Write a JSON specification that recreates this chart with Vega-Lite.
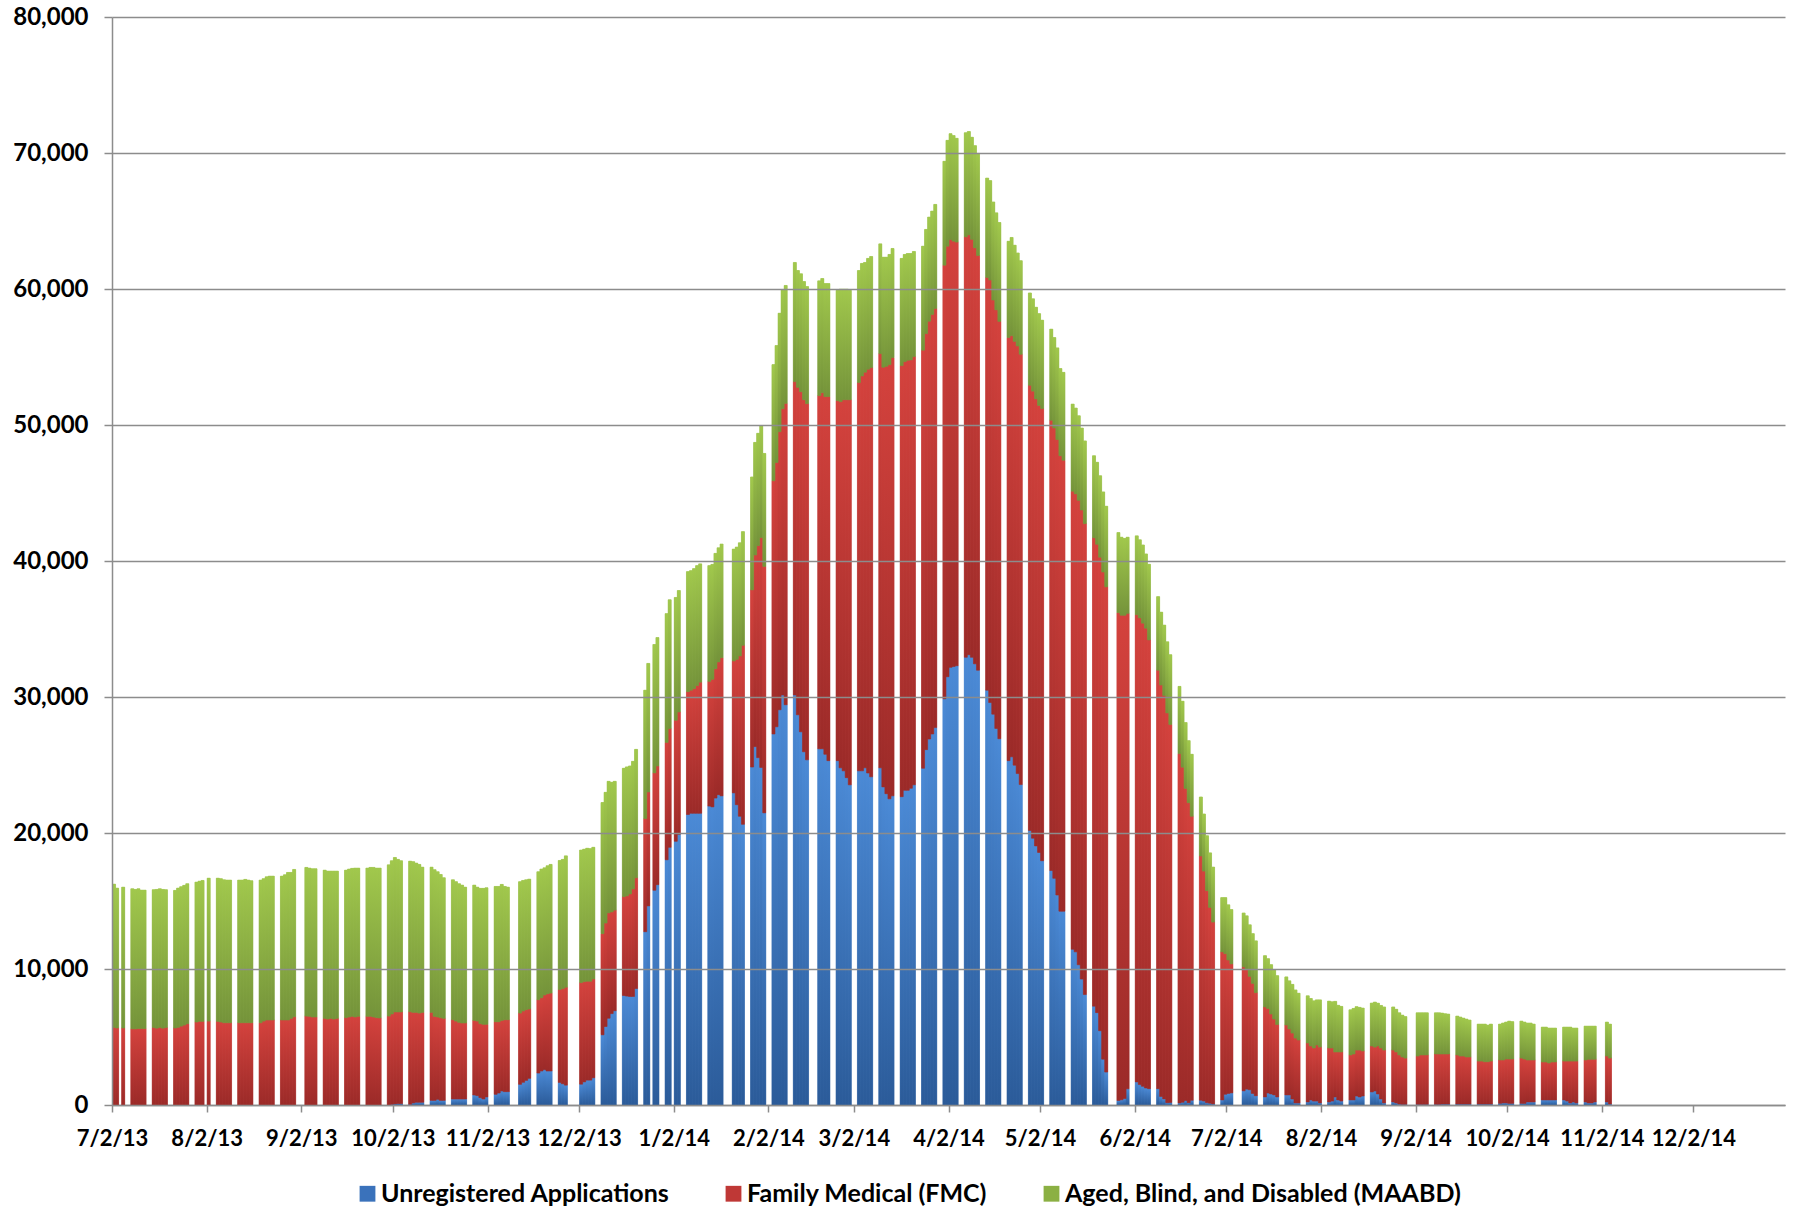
{
"$schema": "https://vega.github.io/schema/vega-lite/v6.json",
"width": 1673, "height": 1088,
"autosize": {"type": "none"},
"padding": {"left": 112, "top": 17, "right": 9, "bottom": 103},
"background": "white",
"config": {"view": {"stroke": null}, "font": "Lato"},
"data": {"values": [
{"d":"2013-07-02","u":0,"f":5710,"a":10530},{"d":"2013-07-03","u":0,"f":5660,"a":10290},{"d":"2013-07-05","u":0,"f":5660,"a":10360},
{"d":"2013-07-08","u":0,"f":5600,"a":10300},{"d":"2013-07-09","u":0,"f":5600,"a":10250},{"d":"2013-07-10","u":0,"f":5620,"a":10280},{"d":"2013-07-11","u":0,"f":5620,"a":10180},{"d":"2013-07-12","u":0,"f":5620,"a":10180},
{"d":"2013-07-15","u":0,"f":5700,"a":10130},{"d":"2013-07-16","u":0,"f":5650,"a":10200},{"d":"2013-07-17","u":0,"f":5700,"a":10200},{"d":"2013-07-18","u":0,"f":5650,"a":10200},{"d":"2013-07-19","u":0,"f":5700,"a":10130},
{"d":"2013-07-22","u":0,"f":5660,"a":10120},{"d":"2013-07-23","u":0,"f":5710,"a":10240},{"d":"2013-07-24","u":0,"f":5800,"a":10250},{"d":"2013-07-25","u":0,"f":5880,"a":10270},{"d":"2013-07-26","u":0,"f":5980,"a":10290},
{"d":"2013-07-29","u":0,"f":6100,"a":10290},{"d":"2013-07-30","u":0,"f":6150,"a":10310},{"d":"2013-07-31","u":0,"f":6150,"a":10360},{"d":"2013-08-02","u":0,"f":6170,"a":10510},
{"d":"2013-08-05","u":0,"f":6150,"a":10530},{"d":"2013-08-06","u":0,"f":6100,"a":10540},{"d":"2013-08-07","u":0,"f":6050,"a":10510},{"d":"2013-08-08","u":0,"f":6050,"a":10490},{"d":"2013-08-09","u":0,"f":6050,"a":10490},
{"d":"2013-08-12","u":0,"f":6050,"a":10490},{"d":"2013-08-13","u":0,"f":6050,"a":10490},{"d":"2013-08-14","u":0,"f":6050,"a":10540},{"d":"2013-08-15","u":0,"f":6050,"a":10490},{"d":"2013-08-16","u":0,"f":6050,"a":10440},
{"d":"2013-08-19","u":0,"f":6050,"a":10490},{"d":"2013-08-20","u":0,"f":6170,"a":10470},{"d":"2013-08-21","u":0,"f":6250,"a":10530},{"d":"2013-08-22","u":0,"f":6250,"a":10580},{"d":"2013-08-23","u":0,"f":6250,"a":10580},
{"d":"2013-08-26","u":0,"f":6250,"a":10580},{"d":"2013-08-27","u":0,"f":6250,"a":10680},{"d":"2013-08-28","u":0,"f":6250,"a":10850},{"d":"2013-08-29","u":0,"f":6370,"a":10730},{"d":"2013-08-30","u":0,"f":6490,"a":10830},
{"d":"2013-09-03","u":0,"f":6540,"a":10930},{"d":"2013-09-04","u":0,"f":6520,"a":10900},{"d":"2013-09-05","u":0,"f":6470,"a":10900},{"d":"2013-09-06","u":0,"f":6470,"a":10900},
{"d":"2013-09-09","u":0,"f":6370,"a":10900},{"d":"2013-09-10","u":0,"f":6320,"a":10880},{"d":"2013-09-11","u":0,"f":6370,"a":10830},{"d":"2013-09-12","u":0,"f":6320,"a":10880},{"d":"2013-09-13","u":0,"f":6370,"a":10830},
{"d":"2013-09-16","u":0,"f":6420,"a":10850},{"d":"2013-09-17","u":0,"f":6470,"a":10880},{"d":"2013-09-18","u":0,"f":6520,"a":10880},{"d":"2013-09-19","u":0,"f":6470,"a":10950},{"d":"2013-09-20","u":0,"f":6520,"a":10900},
{"d":"2013-09-23","u":0,"f":6520,"a":10900},{"d":"2013-09-24","u":0,"f":6520,"a":10950},{"d":"2013-09-25","u":0,"f":6470,"a":11000},{"d":"2013-09-26","u":0,"f":6420,"a":11000},{"d":"2013-09-27","u":0,"f":6400,"a":11020},
{"d":"2013-09-30","u":0,"f":6540,"a":11120},{"d":"2013-10-01","u":50,"f":6640,"a":11270},{"d":"2013-10-02","u":80,"f":6760,"a":11360},{"d":"2013-10-03","u":100,"f":6740,"a":11220},{"d":"2013-10-04","u":100,"f":6740,"a":11120},
{"d":"2013-10-07","u":50,"f":6810,"a":11070},{"d":"2013-10-08","u":150,"f":6660,"a":11080},{"d":"2013-10-09","u":200,"f":6610,"a":10980},{"d":"2013-10-10","u":200,"f":6560,"a":10930},{"d":"2013-10-11","u":200,"f":6610,"a":10680},
{"d":"2013-10-14","u":340,"f":6470,"a":10680},{"d":"2013-10-15","u":340,"f":6180,"a":10780},{"d":"2013-10-16","u":420,"f":6050,"a":10680},{"d":"2013-10-17","u":340,"f":6080,"a":10530},{"d":"2013-10-18","u":340,"f":6030,"a":10340},
{"d":"2013-10-21","u":440,"f":5830,"a":10290},{"d":"2013-10-22","u":440,"f":5730,"a":10250},{"d":"2013-10-23","u":440,"f":5640,"a":10190},{"d":"2013-10-24","u":440,"f":5590,"a":10140},{"d":"2013-10-25","u":440,"f":5590,"a":9990},
{"d":"2013-10-28","u":735,"f":5485,"a":9950},{"d":"2013-10-29","u":690,"f":5480,"a":9850},{"d":"2013-10-30","u":540,"f":5440,"a":9950},{"d":"2013-10-31","u":440,"f":5490,"a":10000},{"d":"2013-11-01","u":590,"f":5340,"a":10040},
{"d":"2013-11-04","u":785,"f":5335,"a":9950},{"d":"2013-11-05","u":880,"f":5240,"a":9950},{"d":"2013-11-06","u":1030,"f":5190,"a":10000},{"d":"2013-11-07","u":980,"f":5290,"a":9800},{"d":"2013-11-08","u":980,"f":5290,"a":9750},
{"d":"2013-11-12","u":1520,"f":5240,"a":9660},{"d":"2013-11-13","u":1670,"f":5240,"a":9600},{"d":"2013-11-14","u":1810,"f":5200,"a":9550},{"d":"2013-11-15","u":1960,"f":5100,"a":9550},
{"d":"2013-11-18","u":2350,"f":5390,"a":9410},{"d":"2013-11-19","u":2500,"f":5390,"a":9460},{"d":"2013-11-20","u":2600,"f":5490,"a":9350},{"d":"2013-11-21","u":2500,"f":5680,"a":9410},{"d":"2013-11-22","u":2500,"f":5730,"a":9460},
{"d":"2013-11-25","u":1660,"f":6830,"a":9490},{"d":"2013-11-26","u":1560,"f":7000,"a":9500},{"d":"2013-11-27","u":1460,"f":7200,"a":9660},
{"d":"2013-12-02","u":1530,"f":7470,"a":9750},{"d":"2013-12-03","u":1700,"f":7370,"a":9740},{"d":"2013-12-04","u":1830,"f":7270,"a":9780},{"d":"2013-12-05","u":1830,"f":7270,"a":9750},{"d":"2013-12-06","u":2000,"f":7270,"a":9680},
{"d":"2013-12-09","u":5160,"f":7440,"a":9640},{"d":"2013-12-10","u":5770,"f":7610,"a":9610},{"d":"2013-12-11","u":6380,"f":7750,"a":9670},{"d":"2013-12-12","u":6720,"f":7480,"a":9530},{"d":"2013-12-13","u":6930,"f":7400,"a":9470},
{"d":"2013-12-16","u":8050,"f":7270,"a":9440},{"d":"2013-12-17","u":8010,"f":7370,"a":9480},{"d":"2013-12-18","u":7980,"f":7540,"a":9410},{"d":"2013-12-19","u":7980,"f":7910,"a":9380},{"d":"2013-12-20","u":8560,"f":8150,"a":9440},
{"d":"2013-12-23","u":12740,"f":8320,"a":9440},{"d":"2013-12-24","u":14640,"f":8380,"a":9450},{"d":"2013-12-26","u":15790,"f":8630,"a":9440},{"d":"2013-12-27","u":16200,"f":8730,"a":9440},
{"d":"2013-12-30","u":18030,"f":8630,"a":9470},{"d":"2013-12-31","u":18950,"f":8730,"a":9470},{"d":"2014-01-02","u":19390,"f":8900,"a":9030},{"d":"2014-01-03","u":19900,"f":9000,"a":8930},
{"d":"2014-01-06","u":21360,"f":9030,"a":8830},{"d":"2014-01-07","u":21450,"f":9050,"a":8790},{"d":"2014-01-08","u":21450,"f":9170,"a":8820},{"d":"2014-01-09","u":21450,"f":9390,"a":8820},{"d":"2014-01-10","u":21450,"f":9640,"a":8700},
{"d":"2014-01-13","u":21980,"f":9170,"a":8510},{"d":"2014-01-14","u":21920,"f":9380,"a":8450},{"d":"2014-01-15","u":22570,"f":9510,"a":8480},{"d":"2014-01-16","u":22820,"f":9760,"a":8390},{"d":"2014-01-17","u":22730,"f":10160,"a":8360},
{"d":"2014-01-21","u":22950,"f":9700,"a":8230},{"d":"2014-01-22","u":22080,"f":10690,"a":8260},{"d":"2014-01-23","u":21230,"f":11790,"a":8320},{"d":"2014-01-24","u":20640,"f":13160,"a":8360},
{"d":"2014-01-27","u":24850,"f":13030,"a":8300},{"d":"2014-01-28","u":26350,"f":14090,"a":8280},{"d":"2014-01-29","u":25540,"f":15590,"a":8260},{"d":"2014-01-30","u":24820,"f":16900,"a":8230},{"d":"2014-01-31","u":21480,"f":18120,"a":8310},
{"d":"2014-02-03","u":27280,"f":18620,"a":8540},{"d":"2014-02-04","u":27810,"f":19430,"a":8600},{"d":"2014-02-05","u":29060,"f":20450,"a":8710},{"d":"2014-02-06","u":30150,"f":21050,"a":8740},{"d":"2014-02-07","u":29430,"f":22160,"a":8670},
{"d":"2014-02-10","u":30150,"f":23040,"a":8760},{"d":"2014-02-11","u":28690,"f":24080,"a":8590},{"d":"2014-02-12","u":27440,"f":25010,"a":8670},{"d":"2014-02-13","u":25970,"f":25890,"a":8690},{"d":"2014-02-14","u":25380,"f":26190,"a":8610},
{"d":"2014-02-18","u":26190,"f":25970,"a":8440},{"d":"2014-02-19","u":26190,"f":26190,"a":8390},{"d":"2014-02-20","u":25790,"f":26300,"a":8310},{"d":"2014-02-21","u":25320,"f":26770,"a":8310},
{"d":"2014-02-24","u":25320,"f":26470,"a":8120},{"d":"2014-02-25","u":24790,"f":26930,"a":8270},{"d":"2014-02-26","u":24570,"f":27290,"a":8130},{"d":"2014-02-27","u":24070,"f":27790,"a":8130},{"d":"2014-02-28","u":23540,"f":28320,"a":8050},
{"d":"2014-03-03","u":24570,"f":28550,"a":8240},{"d":"2014-03-04","u":24570,"f":29040,"a":8270},{"d":"2014-03-05","u":24790,"f":29090,"a":8070},{"d":"2014-03-06","u":24410,"f":29690,"a":8150},{"d":"2014-03-07","u":24130,"f":30090,"a":8170},
{"d":"2014-03-10","u":24790,"f":30460,"a":8070},{"d":"2014-03-11","u":23390,"f":30860,"a":8090},{"d":"2014-03-12","u":22890,"f":31430,"a":8020},{"d":"2014-03-13","u":22510,"f":31930,"a":8100},{"d":"2014-03-14","u":22730,"f":32230,"a":8020},
{"d":"2014-03-17","u":22670,"f":31700,"a":7880},{"d":"2014-03-18","u":23140,"f":31520,"a":7880},{"d":"2014-03-19","u":23140,"f":31620,"a":7850},{"d":"2014-03-20","u":23290,"f":31500,"a":7820},{"d":"2014-03-21","u":23540,"f":31490,"a":7730},
{"d":"2014-03-24","u":24760,"f":30740,"a":7650},{"d":"2014-03-25","u":26130,"f":30590,"a":7660},{"d":"2014-03-26","u":26910,"f":30720,"a":7660},{"d":"2014-03-27","u":27280,"f":30850,"a":7600},{"d":"2014-03-28","u":27750,"f":30820,"a":7650},
{"d":"2014-03-31","u":29870,"f":31880,"a":7640},{"d":"2014-04-01","u":31490,"f":31660,"a":7780},{"d":"2014-04-02","u":32180,"f":31460,"a":7780},{"d":"2014-04-03","u":32240,"f":31280,"a":7760},{"d":"2014-04-04","u":32300,"f":31150,"a":7630},
{"d":"2014-04-07","u":32920,"f":30920,"a":7650},{"d":"2014-04-08","u":33110,"f":30870,"a":7600},{"d":"2014-04-09","u":32920,"f":30730,"a":7510},{"d":"2014-04-10","u":32440,"f":30590,"a":7510},{"d":"2014-04-11","u":31970,"f":30490,"a":7510},
{"d":"2014-04-14","u":30500,"f":30350,"a":7310},{"d":"2014-04-15","u":29590,"f":31070,"a":7310},{"d":"2014-04-16","u":28740,"f":30450,"a":7210},{"d":"2014-04-17","u":27690,"f":30780,"a":7130},{"d":"2014-04-18","u":26930,"f":30690,"a":7270},
{"d":"2014-04-21","u":25320,"f":31110,"a":7080},{"d":"2014-04-22","u":25600,"f":30970,"a":7220},{"d":"2014-04-23","u":24990,"f":31160,"a":7070},{"d":"2014-04-24","u":24370,"f":31440,"a":6840},{"d":"2014-04-25","u":23560,"f":31640,"a":6880},
{"d":"2014-04-28","u":20190,"f":32730,"a":6790},{"d":"2014-04-29","u":19620,"f":32870,"a":6790},{"d":"2014-04-30","u":19050,"f":32870,"a":6740},{"d":"2014-05-01","u":18570,"f":32870,"a":6750},{"d":"2014-05-02","u":17960,"f":33250,"a":6500},
{"d":"2014-05-05","u":17240,"f":33110,"a":6700},{"d":"2014-05-06","u":16670,"f":33110,"a":6650},{"d":"2014-05-07","u":15440,"f":33490,"a":6740},{"d":"2014-05-08","u":14250,"f":33490,"a":6410},{"d":"2014-05-09","u":14250,"f":33160,"a":6460},
{"d":"2014-05-12","u":11450,"f":33680,"a":6410},{"d":"2014-05-13","u":11260,"f":33680,"a":6310},{"d":"2014-05-14","u":10310,"f":34150,"a":6220},{"d":"2014-05-15","u":9260,"f":34490,"a":6030},{"d":"2014-05-16","u":8120,"f":34630,"a":6080},
{"d":"2014-05-19","u":7270,"f":34440,"a":6030},{"d":"2014-05-20","u":6790,"f":34440,"a":6030},{"d":"2014-05-21","u":5460,"f":34820,"a":5990},{"d":"2014-05-22","u":3370,"f":35820,"a":5890},{"d":"2014-05-23","u":2420,"f":35680,"a":5930},
{"d":"2014-05-27","u":330,"f":35870,"a":5890},{"d":"2014-05-28","u":380,"f":35630,"a":5740},{"d":"2014-05-29","u":475,"f":35535,"a":5650},{"d":"2014-05-30","u":1190,"f":34960,"a":5600},
{"d":"2014-06-02","u":1700,"f":34350,"a":5800},{"d":"2014-06-03","u":1500,"f":34320,"a":5740},{"d":"2014-06-04","u":1370,"f":34060,"a":5750},{"d":"2014-06-05","u":1250,"f":33810,"a":5460},{"d":"2014-06-06","u":1200,"f":33000,"a":5560},
{"d":"2014-06-09","u":1200,"f":30770,"a":5410},{"d":"2014-06-10","u":620,"f":30260,"a":5360},{"d":"2014-06-11","u":450,"f":29660,"a":5180},{"d":"2014-06-12","u":170,"f":28660,"a":5230},{"d":"2014-06-13","u":190,"f":27790,"a":5130},
{"d":"2014-06-16","u":150,"f":25690,"a":4940},{"d":"2014-06-17","u":200,"f":24640,"a":4850},{"d":"2014-06-18","u":330,"f":22950,"a":4840},{"d":"2014-06-19","u":170,"f":22060,"a":4560},{"d":"2014-06-20","u":350,"f":20880,"a":4560},
{"d":"2014-06-23","u":350,"f":17960,"a":4340},{"d":"2014-06-24","u":290,"f":16910,"a":4200},{"d":"2014-06-25","u":170,"f":15590,"a":4040},{"d":"2014-06-26","u":130,"f":14400,"a":4010},{"d":"2014-06-27","u":80,"f":13370,"a":4050},
{"d":"2014-06-30","u":370,"f":10890,"a":3990},{"d":"2014-07-01","u":790,"f":10340,"a":4120},{"d":"2014-07-02","u":850,"f":9810,"a":4060},{"d":"2014-07-03","u":890,"f":9490,"a":3990},
{"d":"2014-07-07","u":1040,"f":9120,"a":3960},{"d":"2014-07-08","u":1170,"f":8840,"a":3900},{"d":"2014-07-09","u":1120,"f":8340,"a":3790},{"d":"2014-07-10","u":850,"f":8090,"a":3660},{"d":"2014-07-11","u":680,"f":7580,"a":3810},
{"d":"2014-07-14","u":590,"f":6620,"a":3770},{"d":"2014-07-15","u":880,"f":6220,"a":3660},{"d":"2014-07-16","u":810,"f":5880,"a":3630},{"d":"2014-07-17","u":740,"f":5580,"a":3630},{"d":"2014-07-18","u":590,"f":5330,"a":3590},
{"d":"2014-07-21","u":740,"f":5140,"a":3540},{"d":"2014-07-22","u":740,"f":4850,"a":3540},{"d":"2014-07-23","u":440,"f":4850,"a":3580},{"d":"2014-07-24","u":150,"f":4770,"a":3540},{"d":"2014-07-25","u":150,"f":4630,"a":3440},
{"d":"2014-07-28","u":220,"f":4340,"a":3470},{"d":"2014-07-29","u":370,"f":3970,"a":3490},{"d":"2014-07-30","u":290,"f":3900,"a":3470},{"d":"2014-07-31","u":290,"f":4120,"a":3320},{"d":"2014-08-01","u":150,"f":4110,"a":3470},
{"d":"2014-08-04","u":220,"f":3970,"a":3450},{"d":"2014-08-05","u":290,"f":3900,"a":3400},{"d":"2014-08-06","u":590,"f":3310,"a":3720},{"d":"2014-08-07","u":370,"f":3530,"a":3430},{"d":"2014-08-08","u":290,"f":3610,"a":3350},
{"d":"2014-08-11","u":370,"f":3310,"a":3320},{"d":"2014-08-12","u":370,"f":3380,"a":3350},{"d":"2014-08-13","u":660,"f":3380,"a":3190},{"d":"2014-08-14","u":590,"f":3450,"a":3140},{"d":"2014-08-15","u":660,"f":3310,"a":3160},
{"d":"2014-08-18","u":960,"f":3380,"a":3160},{"d":"2014-08-19","u":1030,"f":3230,"a":3310},{"d":"2014-08-20","u":810,"f":3530,"a":3150},{"d":"2014-08-21","u":440,"f":3750,"a":3130},{"d":"2014-08-22","u":150,"f":3890,"a":3170},
{"d":"2014-08-25","u":220,"f":3820,"a":3170},{"d":"2014-08-26","u":150,"f":3750,"a":3140},{"d":"2014-08-27","u":70,"f":3610,"a":3100},{"d":"2014-08-28","u":50,"f":3480,"a":3080},{"d":"2014-08-29","u":50,"f":3400,"a":3050},
{"d":"2014-09-02","u":50,"f":3550,"a":3180},{"d":"2014-09-03","u":50,"f":3630,"a":3100},{"d":"2014-09-04","u":50,"f":3630,"a":3100},{"d":"2014-09-05","u":50,"f":3630,"a":3100},
{"d":"2014-09-08","u":50,"f":3700,"a":3030},{"d":"2014-09-09","u":50,"f":3700,"a":3030},{"d":"2014-09-10","u":70,"f":3680,"a":3010},{"d":"2014-09-11","u":70,"f":3680,"a":2960},{"d":"2014-09-12","u":70,"f":3680,"a":2940},
{"d":"2014-09-15","u":70,"f":3610,"a":2860},{"d":"2014-09-16","u":70,"f":3530,"a":2870},{"d":"2014-09-17","u":70,"f":3530,"a":2790},{"d":"2014-09-18","u":70,"f":3460,"a":2790},{"d":"2014-09-19","u":70,"f":3460,"a":2720},
{"d":"2014-09-22","u":70,"f":3160,"a":2720},{"d":"2014-09-23","u":70,"f":3160,"a":2720},{"d":"2014-09-24","u":70,"f":3110,"a":2770},{"d":"2014-09-25","u":70,"f":3110,"a":2700},{"d":"2014-09-26","u":70,"f":3160,"a":2720},
{"d":"2014-09-29","u":120,"f":3190,"a":2640},{"d":"2014-09-30","u":150,"f":3160,"a":2720},{"d":"2014-10-01","u":150,"f":3230,"a":2720},{"d":"2014-10-02","u":120,"f":3260,"a":2790},{"d":"2014-10-03","u":120,"f":3260,"a":2750},
{"d":"2014-10-06","u":120,"f":3330,"a":2720},{"d":"2014-10-07","u":120,"f":3260,"a":2720},{"d":"2014-10-08","u":220,"f":3090,"a":2720},{"d":"2014-10-09","u":220,"f":3090,"a":2720},{"d":"2014-10-10","u":220,"f":3090,"a":2640},
{"d":"2014-10-13","u":370,"f":2790,"a":2570},{"d":"2014-10-14","u":370,"f":2790,"a":2570},{"d":"2014-10-15","u":370,"f":2720,"a":2570},{"d":"2014-10-16","u":370,"f":2790,"a":2500},{"d":"2014-10-17","u":370,"f":2790,"a":2500},
{"d":"2014-10-20","u":370,"f":2860,"a":2500},{"d":"2014-10-21","u":290,"f":2940,"a":2500},{"d":"2014-10-22","u":150,"f":3080,"a":2500},{"d":"2014-10-23","u":220,"f":3010,"a":2430},{"d":"2014-10-24","u":150,"f":3080,"a":2430},
{"d":"2014-10-27","u":220,"f":3090,"a":2490},{"d":"2014-10-28","u":150,"f":3210,"a":2440},{"d":"2014-10-29","u":150,"f":3210,"a":2440},{"d":"2014-10-30","u":220,"f":3140,"a":2440},
{"d":"2014-11-03","u":220,"f":3380,"a":2500},{"d":"2014-11-04","u":70,"f":3380,"a":2500}
]},
"transform": [
  {"fold": ["u", "f", "a"], "as": ["k", "v"]},
  {"stack": "v", "groupby": ["d"], "sort": [{"field": "k", "order": "descending"}], "as": ["v0", "v1"]}
],
"encoding": {
  "x": {"field": "d", "type": "temporal", "timeUnit": "utcyearmonthdate",
    "scale": {"type": "utc", "domain": [{"year": 2013, "month": 7, "date": 2, "utc": true}, {"year": 2015, "month": 1, "date": 1, "utc": true}]},
    "axis": {"title": null, "grid": false,
      "values": [
        {"year": 2013, "month": 7, "date": 2, "utc": true}, {"year": 2013, "month": 8, "date": 2, "utc": true},
        {"year": 2013, "month": 9, "date": 2, "utc": true}, {"year": 2013, "month": 10, "date": 2, "utc": true},
        {"year": 2013, "month": 11, "date": 2, "utc": true}, {"year": 2013, "month": 12, "date": 2, "utc": true},
        {"year": 2014, "month": 1, "date": 2, "utc": true}, {"year": 2014, "month": 2, "date": 2, "utc": true},
        {"year": 2014, "month": 3, "date": 2, "utc": true}, {"year": 2014, "month": 4, "date": 2, "utc": true},
        {"year": 2014, "month": 5, "date": 2, "utc": true}, {"year": 2014, "month": 6, "date": 2, "utc": true},
        {"year": 2014, "month": 7, "date": 2, "utc": true}, {"year": 2014, "month": 8, "date": 2, "utc": true},
        {"year": 2014, "month": 9, "date": 2, "utc": true}, {"year": 2014, "month": 10, "date": 2, "utc": true},
        {"year": 2014, "month": 11, "date": 2, "utc": true}, {"year": 2014, "month": 12, "date": 2, "utc": true}
      ],
      "format": "%-m/%-d/%y",
      "labelFont": "Lato", "labelFontWeight": "bold", "labelFontSize": 22, "labelColor": "#000000",
      "labelPadding": 16, "labelFlush": false, "labelOverlap": false,
      "tickColor": "#8c8c8c", "tickSize": 7, "tickWidth": 1.5,
      "domainColor": "#8c8c8c", "domainWidth": 1.5}},
  "y": {"field": "v0", "type": "quantitative",
    "scale": {"domain": [0, 80000], "nice": false},
    "axis": {"title": null, "values": [0, 10000, 20000, 30000, 40000, 50000, 60000, 70000, 80000], "format": ",d",
      "labelFont": "Lato", "labelFontWeight": "bold", "labelFontSize": 24, "labelColor": "#000000",
      "labelPadding": 16, "tickSize": 8, "tickColor": "#8c8c8c", "tickWidth": 1.5,
      "domainColor": "#8c8c8c", "domainWidth": 1.5,
      "grid": true, "gridColor": "#8c8c8c", "gridWidth": 1.5, "zindex": 1}},
  "y2": {"field": "v1"}
},
"layer": [
  {"mark": {"type": "bar", "binSpacing": 0},
   "encoding": {"color": {"field": "k", "type": "nominal",
     "scale": {"domain": ["u", "f", "a"], "range": ["#3a72bb", "#bf3836", "#8bb043"]},
     "legend": {"title": null, "orient": "none", "legendX": 243, "legendY": 1164, "direction": "horizontal",
       "labelExpr": "datum.label == 'u' ? 'Unregistered Applications' : datum.label == 'f' ? 'Family Medical (FMC)' : 'Aged, Blind, and Disabled (MAABD)'",
       "labelFont": "Lato", "labelFontWeight": "bold", "labelFontSize": 25, "labelColor": "#000000", "labelLimit": 0,
       "symbolType": "square", "symbolSize": 250, "symbolStrokeWidth": 0, "symbolOpacity": 1,
       "columnPadding": 51, "labelOffset": 1}}}},
  {"transform": [{"filter": "datum.k === 'u'"}],
   "mark": {"type": "bar", "binSpacing": 0,
     "fill": {"gradient": "linear", "x1": 0, "y1": 0, "x2": 0, "y2": 1, "stops": [{"offset": 0, "color": "#4b8ad6"}, {"offset": 1, "color": "#2b5b99"}]},
     "stroke": {"gradient": "linear", "x1": 0, "y1": 0, "x2": 0, "y2": 1, "stops": [{"offset": 0, "color": "#4b8ad6"}, {"offset": 1, "color": "#2b5b99"}]},
     "strokeWidth": 0.6}},
  {"transform": [{"filter": "datum.k === 'f'"}],
   "mark": {"type": "bar", "binSpacing": 0,
     "fill": {"gradient": "linear", "x1": 0, "y1": 0, "x2": 0, "y2": 1, "stops": [{"offset": 0, "color": "#d4423d"}, {"offset": 1, "color": "#9b2a28"}]},
     "stroke": {"gradient": "linear", "x1": 0, "y1": 0, "x2": 0, "y2": 1, "stops": [{"offset": 0, "color": "#d4423d"}, {"offset": 1, "color": "#9b2a28"}]},
     "strokeWidth": 0.6}},
  {"transform": [{"filter": "datum.k === 'a'"}],
   "mark": {"type": "bar", "binSpacing": 0,
     "fill": {"gradient": "linear", "x1": 0, "y1": 0, "x2": 0, "y2": 1, "stops": [{"offset": 0, "color": "#a1c84c"}, {"offset": 1, "color": "#74933a"}]},
     "stroke": {"gradient": "linear", "x1": 0, "y1": 0, "x2": 0, "y2": 1, "stops": [{"offset": 0, "color": "#a1c84c"}, {"offset": 1, "color": "#74933a"}]},
     "strokeWidth": 0.6}}
]
}
